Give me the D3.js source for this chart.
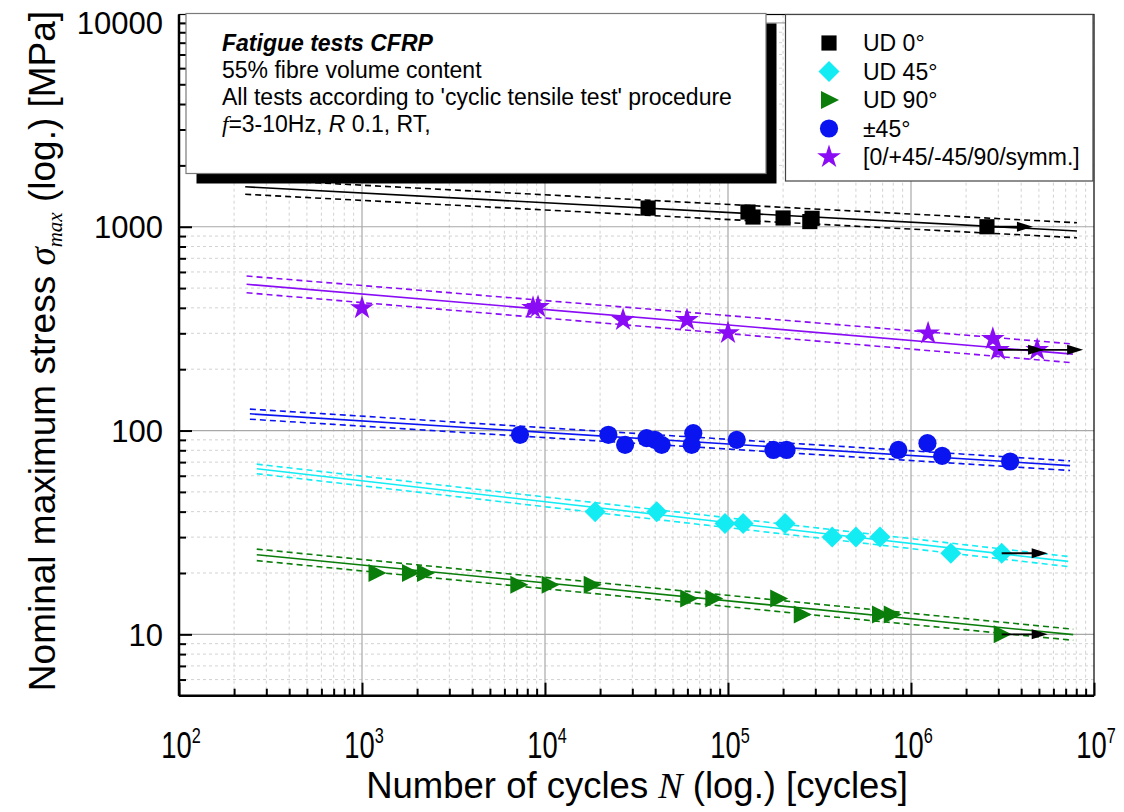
<!DOCTYPE html>
<html>
<head>
<meta charset="utf-8">
<script src="https://cdn.jsdelivr.net/npm/d3@7"></script>
<style>
  html, body { margin: 0; padding: 0; background: #fff; }
  svg { display: block; font-family: "Liberation Sans", Arial, sans-serif; }
</style>
</head>
<body>
<svg id="chart" width="1124" height="812"></svg>
<script>
// ---------------- data ----------------
const xTickValues = [1e2, 1e3, 1e4, 1e5, 1e6, 1e7];
const xTickExponents = ["2", "3", "4", "5", "6", "7"];
const yTickValues = [10, 100, 1000, 10000];
const yTickLabels = ["10", "100", "1000", "10000"];

const seriesNames = ["UD 0°", "UD 45°", "UD 90°", "±45°", "[0/+45/-45/90/symm.]"];

// UD 0° (black squares)
const ud0N = [36600, 128600, 137000, 200000, 288000, 280000, 2600000];
const ud0S = [1235, 1181, 1116, 1104, 1100, 1060, 1000];
const ud0Runout = [0, 0, 0, 0, 0, 0, 1];
const ud0FitN = [230, 8070000];
const ud0FitS = [1571, 953];
const ud0UpperS = [1714, 1046];
const ud0LowerS = [1443, 883];

// UD 45° (cyan diamonds)
const ud45N = [18800, 40800, 96300, 121000, 205000, 371000, 500000, 677000, 1650000, 3130000];
const ud45S = [40, 40, 35, 35, 35, 30, 30, 30, 25, 25];
const ud45Runout = [0, 0, 0, 0, 0, 0, 0, 0, 0, 1];
const ud45FitN = [266, 7230000];
const ud45FitS = [64.9, 22.8];
const ud45UpperS = [68.4, 24.1];
const ud45LowerS = [61.4, 21.5];

// UD 90° (green triangles)
const ud90N = [1200, 1830, 2210, 7150, 10600, 18000, 60600, 83100, 188000, 253000, 677000, 785000, 3130000];
const ud90S = [20, 20, 20, 17.5, 17.5, 17.5, 15, 15, 15, 12.5, 12.5, 12.5, 10];
const ud90Runout = [0, 0, 0, 0, 0, 0, 0, 0, 0, 0, 0, 0, 1];
const ud90FitN = [266, 7700000];
const ud90FitS = [24.6, 9.97];
const ud90UpperS = [26.2, 10.6];
const ud90LowerS = [23.0, 9.35];

// ±45° (blue circles)
const pm45N = [7300, 22200, 27400, 35900, 39900, 43400, 64600, 63300, 111600, 177000, 209000, 853000, 1230000, 1480000, 3480000];
const pm45S = [95.3, 95.3, 85.1, 91.8, 90, 85.1, 97.1, 85.1, 90, 80.3, 80.3, 80.3, 86.7, 75.1, 70.5];
const pm45Runout = [0, 0, 0, 0, 0, 0, 0, 0, 0, 0, 0, 0, 0, 0, 0];
const pm45FitN = [244, 7400000];
const pm45FitS = [120.8, 67.3];
const pm45UpperS = [127.4, 71.0];
const pm45LowerS = [113.7, 63.7];

// quasi-isotropic (purple stars)
const qiN = [1000, 8600, 9160, 26700, 59700, 100000, 1240000, 2800000, 2990000, 4890000];
const qiS = [399, 400, 404, 349, 349, 301, 300, 282, 249, 249];
const qiRunout = [0, 0, 0, 0, 0, 0, 0, 0, 1, 1];
const qiFitN = [234, 7670000];
const qiFitS = [522, 237];
const qiUpperS = [573, 266];
const qiLowerS = [474, 215];

const infoLines = ["Fatigue tests CFRP", "55% fibre volume content",
  "All tests according to 'cyclic tensile test' procedure"];

// ---------------- chart ----------------
const svg = d3.select("#chart");
const x = d3.scaleLog().domain([1e2, 1e7]).range([179, 1094]);
const y = d3.scaleLog().domain([5, 11000]).range([695.7, 14.5]);
const [x0, x1] = x.range();
const [yb, yt] = y.range();

// grid
const minorX = [];
for (let d = 100; d < 1e7; d *= 10) for (let k = 2; k <= 9; k++) minorX.push(d * k);
const minorY = [];
for (let d = 1; d < 11000; d *= 10) for (let k = 2; k <= 9; k++) { const v = d * k; if (v > 5 && v < 11000) minorY.push(v); }

const grid = svg.append("g");
grid.selectAll(".gmx").data(minorX).join("line")
  .attr("x1", d => x(d)).attr("x2", d => x(d)).attr("y1", yb).attr("y2", yt)
  .attr("stroke", "#d2d2d2").attr("stroke-width", 1).attr("stroke-dasharray", "3,3");
grid.selectAll(".gmy").data(minorY).join("line")
  .attr("y1", d => y(d)).attr("y2", d => y(d)).attr("x1", x0).attr("x2", x1)
  .attr("stroke", "#d2d2d2").attr("stroke-width", 1).attr("stroke-dasharray", "3,3");
grid.selectAll(".gMx").data(xTickValues.slice(1, -1)).join("line")
  .attr("x1", d => x(d)).attr("x2", d => x(d)).attr("y1", yb).attr("y2", yt)
  .attr("stroke", "#a8a8a8").attr("stroke-width", 1.2);
grid.selectAll(".gMy").data(yTickValues).join("line")
  .attr("y1", d => y(d)).attr("y2", d => y(d)).attr("x1", x0).attr("x2", x1)
  .attr("stroke", "#a8a8a8").attr("stroke-width", 1.2);

// axes (ticks inside)
const axB = svg.append("g").attr("transform", `translate(0,${yb})`);
axB.call(d3.axisBottom(x).tickValues(xTickValues).tickSize(-13).tickFormat(""));
const axBm = svg.append("g").attr("transform", `translate(0,${yb})`);
axBm.call(d3.axisBottom(x).tickValues(minorX).tickSize(-7).tickFormat(""));
const axL = svg.append("g").attr("transform", `translate(${x0},0)`);
axL.call(d3.axisLeft(y).tickValues(yTickValues).tickSize(-13).tickFormat(""));
const axLm = svg.append("g").attr("transform", `translate(${x0},0)`);
axLm.call(d3.axisLeft(y).tickValues(minorY).tickSize(-7).tickFormat(""));
[axB, axBm, axL, axLm].forEach(a => {
  a.select(".domain").remove();
  a.selectAll(".tick line").attr("stroke", "#000").attr("stroke-width", 2);
});
// frame
svg.append("rect").attr("x", x0).attr("y", yt).attr("width", x1 - x0).attr("height", yb - yt)
  .attr("fill", "none").attr("stroke", "#000").attr("stroke-width", 1.2);
svg.append("line").attr("x1", x0).attr("x2", x1).attr("y1", yb).attr("y2", yb).attr("stroke", "#000").attr("stroke-width", 2.5);
svg.append("line").attr("x1", x0).attr("x2", x0).attr("y1", yt).attr("y2", yb).attr("stroke", "#000").attr("stroke-width", 2.5);

// tick labels
const xl = svg.append("g");
xTickValues.forEach((v, i) => {
  const g = xl.append("g").attr("transform", `translate(${x(v) + 2},758) scale(0.74,1)`);
  const t = g.append("text").attr("text-anchor", "middle").attr("font-size", 37).attr("fill", "#000");
  t.append("tspan").text("10");
  t.append("tspan").attr("font-size", 22).attr("dy", -15).text(xTickExponents[i]);
});
svg.append("g").selectAll("text").data(yTickValues).join("text")
  .attr("x", 163).attr("y", d => y(d)).attr("dy", "0.36em")
  .attr("text-anchor", "end").attr("font-size", 31).attr("fill", "#000")
  .text((d, i) => yTickLabels[i]);

// axis titles
const xt = svg.append("text").attr("x", 637).attr("y", 798).attr("text-anchor", "middle")
  .attr("font-size", 36.5).attr("fill", "#000");
xt.append("tspan").text("Number of cycles ");
xt.append("tspan").attr("font-family", "'Liberation Serif', 'Times New Roman', serif").attr("font-style", "italic").text("N");
xt.append("tspan").text(" (log.) [cycles]");

const yt2 = svg.append("text").attr("transform", "translate(55,351) rotate(-90)").attr("text-anchor", "middle")
  .attr("font-size", 37).attr("fill", "#000");
yt2.append("tspan").text("Nominal maximum stress ");
yt2.append("tspan").attr("font-family", "'Liberation Serif', 'Times New Roman', serif").attr("font-style", "italic").text("σ");
yt2.append("tspan").attr("font-family", "'Liberation Serif', 'Times New Roman', serif").attr("font-style", "italic")
  .attr("font-size", 21).attr("dy", 7).text("max");
yt2.append("tspan").attr("dy", -7).text("  (log.) [MPa]");

// series definitions
const tri = "M-8,-9L10,0L-8,9Z";
const dia = "M0,-10.5L10.5,0L0,10.5L-10.5,0Z";
const series = [
  { N: ud0N, S: ud0S, R: ud0Runout, fN: ud0FitN, fS: ud0FitS, uS: ud0UpperS, lS: ud0LowerS, color: "#000000", shape: d3.symbol(d3.symbolSquare, 230)() },
  { N: ud45N, S: ud45S, R: ud45Runout, fN: ud45FitN, fS: ud45FitS, uS: ud45UpperS, lS: ud45LowerS, color: "#14ecf4", shape: dia },
  { N: ud90N, S: ud90S, R: ud90Runout, fN: ud90FitN, fS: ud90FitS, uS: ud90UpperS, lS: ud90LowerS, color: "#0a7d0a", shape: tri },
  { N: pm45N, S: pm45S, R: pm45Runout, fN: pm45FitN, fS: pm45FitS, uS: pm45UpperS, lS: pm45LowerS, color: "#0a14f0", shape: d3.symbol(d3.symbolCircle, 260)() },
  { N: qiN, S: qiS, R: qiRunout, fN: qiFitN, fS: qiFitS, uS: qiUpperS, lS: qiLowerS, color: "#8a0cf5", shape: d3.symbol(d3.symbolStar, 175)() }
];
series.forEach((s, i) => s.name = seriesNames[i]);

const line = d3.line().x(d => x(d[0])).y(d => y(d[1]));
const dataG = svg.append("g");
series.forEach(s => {
  dataG.append("path").attr("d", line(d3.zip(s.fN, s.fS))).attr("fill", "none")
    .attr("stroke", s.color).attr("stroke-width", 1.6);
  [s.uS, s.lS].forEach(b => {
    dataG.append("path").attr("d", line(d3.zip(s.fN, b))).attr("fill", "none")
      .attr("stroke", s.color).attr("stroke-width", 1.6).attr("stroke-dasharray", "6,4");
  });
});
series.forEach(s => {
  const pts = d3.zip(s.N, s.S, s.R);
  dataG.append("g").selectAll("path").data(pts).join("path")
    .attr("d", s.shape).attr("fill", s.color)
    .attr("transform", d => `translate(${x(d[0])},${y(d[1])})`);
});
// run-out arrows
series.forEach(s => {
  const pts = d3.zip(s.N, s.S, s.R).filter(d => d[2]);
  pts.forEach(d => {
    const px = x(d[0]), py = y(d[1]);
    dataG.append("line").attr("x1", px).attr("x2", px + 32).attr("y1", py).attr("y2", py)
      .attr("stroke", "#000").attr("stroke-width", 1.8);
    dataG.append("path").attr("d", `M${px + 30},${py - 5}L${px + 46},${py}L${px + 30},${py + 5}Z`).attr("fill", "#000");
  });
});

// info box with shadow
svg.append("rect").attr("x", 196.5).attr("y", 23.5).attr("width", 580).attr("height", 160).attr("fill", "#000");
svg.append("rect").attr("x", 186).attr("y", 13.5).attr("width", 580).attr("height", 160)
  .attr("fill", "#fff").attr("stroke", "#7a7a7a").attr("stroke-width", 1.2);
const info = svg.append("g").attr("font-size", 23).attr("fill", "#000");
info.append("text").attr("x", 222).attr("y", 51).attr("font-weight", "bold").attr("font-style", "italic").text(infoLines[0]);
info.append("text").attr("x", 222).attr("y", 78).text(infoLines[1]);
info.append("text").attr("x", 222).attr("y", 105).text(infoLines[2]);
const l4 = info.append("text").attr("x", 222).attr("y", 132);
l4.append("tspan").attr("font-style", "italic").attr("font-family", "'Liberation Serif', serif").text("f");
l4.append("tspan").text("=3-10Hz, ");
l4.append("tspan").attr("font-style", "italic").text("R");
l4.append("tspan").text(" 0.1, RT,");

// legend
svg.append("rect").attr("x", 785.5).attr("y", 14.5).attr("width", 307.5).attr("height", 166.5)
  .attr("fill", "#fff").attr("stroke", "#444").attr("stroke-width", 1.2);
const legRows = [43, 71.5, 100, 128.5, 157];
const leg = svg.append("g");
series.forEach((s, i) => {
  leg.append("path").attr("d", s.shape).attr("fill", s.color)
    .attr("transform", `translate(829,${legRows[i]})`);
  leg.append("text").attr("x", 863).attr("y", legRows[i]).attr("dy", "0.36em")
    .attr("font-size", 23).attr("fill", "#000").text(s.name);
});
</script>
</body>
</html>
